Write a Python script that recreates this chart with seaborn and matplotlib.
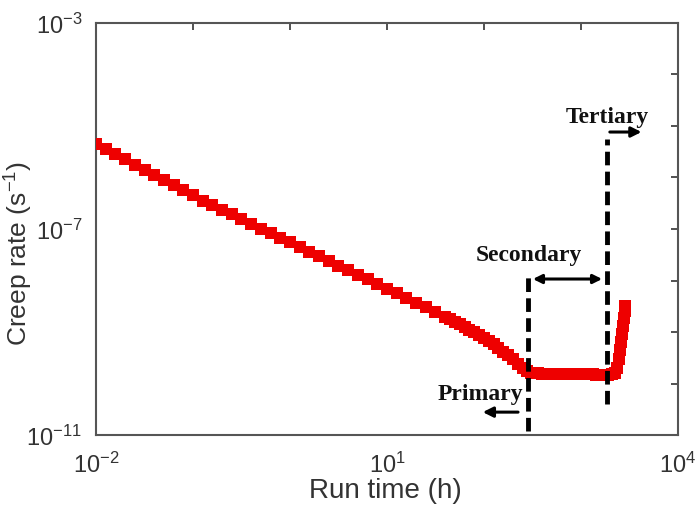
#Librerias
import numpy as np
import pandas as pd
import matplotlib
matplotlib.use("Agg")
import matplotlib.pyplot as plt
import seaborn as sns

#Datos (tiempo en horas, velocidad de creep en 1/s)
run_time_h = [
    0.0100, 0.0126, 0.0158, 0.0200, 0.0251, 0.0316, 0.0398, 0.0501, 0.0631, 0.0794,
    0.100, 0.126, 0.158, 0.200, 0.251, 0.316, 0.398, 0.501, 0.631, 0.794,
    1.00, 1.26, 1.58, 2.00, 2.51, 3.16, 3.98, 5.01, 6.31, 7.94,
    10.0, 12.6, 15.8, 20.0, 25.1, 31.6, 39.8,
    44.7, 50.1, 56.2, 63.1, 70.8, 79.4, 89.1, 100, 112, 126, 141, 158, 178, 200, 224, 251, 275,
    302, 331, 363, 398, 437, 479, 525, 575, 631, 692, 759, 832, 912, 1000, 1096, 1202,
    1318, 1445, 1585, 1738, 1905, 2089,
    2239, 2344, 2455, 2512, 2570, 2630, 2692, 2754, 2818, 2851,
]
creep_rate = [
    4.47e-6, 3.55e-6, 2.82e-6, 2.24e-6, 1.78e-6, 1.41e-6, 1.12e-6, 8.91e-7, 7.08e-7, 5.62e-7,
    4.47e-7, 3.55e-7, 2.88e-7, 2.34e-7, 1.91e-7, 1.55e-7, 1.26e-7, 1.02e-7, 8.32e-8, 6.76e-8,
    5.50e-8, 4.47e-8, 3.63e-8, 2.95e-8, 2.40e-8, 1.95e-8, 1.58e-8, 1.29e-8, 1.05e-8, 8.51e-9,
    6.92e-9, 5.62e-9, 4.57e-9, 3.72e-9, 3.02e-9, 2.45e-9, 2.00e-9,
    1.78e-9, 1.58e-9, 1.41e-9, 1.26e-9, 1.12e-9, 1.00e-9, 8.91e-10, 7.76e-10, 6.76e-10, 5.75e-10,
    4.90e-10, 4.17e-10, 3.55e-10, 2.95e-10, 2.45e-10, 2.04e-10, 1.78e-10,
    1.62e-10, 1.60e-10, 1.58e-10, 1.57e-10, 1.56e-10, 1.56e-10, 1.55e-10, 1.55e-10, 1.54e-10,
    1.54e-10, 1.53e-10, 1.53e-10, 1.52e-10, 1.52e-10, 1.52e-10, 1.51e-10, 1.51e-10, 1.50e-10,
    1.50e-10, 1.50e-10, 1.50e-10, 1.52e-10,
    1.60e-10, 2.00e-10, 3.00e-10, 4.50e-10, 6.50e-10, 9.00e-10, 1.30e-9, 1.90e-9, 2.60e-9, 3.20e-9,
]

#Limites de las etapas (h) y etiquetas de ejes
stage_bounds_h = [285, 1860]
stage_names = ["Primary", "Secondary", "Tertiary"]
x_ticks = [1e-2, 1e-1, 1e0, 1e1, 1e2, 1e3, 1e4]
x_labels = ["$10^{-2}$", "", "", "$10^{1}$", "", "", "$10^{4}$"]
y_ticks = [1e-11, 1e-10, 1e-9, 1e-8, 1e-7, 1e-6, 1e-5, 1e-4, 1e-3]
y_labels = ["$10^{-11}$", "", "", "", "$10^{-7}$", "", "", "", "$10^{-3}$"]

df = pd.DataFrame({"tiempo": run_time_h, "creep": creep_rate})

#Estilo
sns.set_theme(style="white")
plt.rcParams["font.family"] = ["Liberation Sans", "DejaVu Sans"]
plt.rcParams["mathtext.default"] = "regular"

fig = plt.figure(figsize=(6.96, 5.06), dpi=100)
ax = fig.add_axes([0.138, 0.138, 0.836, 0.815])

sns.scatterplot(data=df, x="tiempo", y="creep", marker="s", s=68, color="#ee0000",
                linewidth=0, ax=ax, zorder=3)

ax.set_xscale("log")
ax.set_yscale("log")
ax.set_xlim(1e-2, 1e4)
ax.set_ylim(1e-11, 1e-3)
ax.set_xticks(x_ticks)
ax.set_xticklabels(x_labels)
ax.set_yticks(y_ticks)
ax.set_yticklabels(y_labels)
ax.minorticks_off()
ax.tick_params(direction="in", length=5, width=1.2, top=True, right=True,
               labelsize=17, colors="#333333")
ax.tick_params(axis="x", pad=12)
ax.tick_params(axis="y", pad=10)
for sp in ax.spines.values():
    sp.set_color("#555555")
    sp.set_linewidth(1.5)

ax.set_xlabel("Run time (h)", fontsize=20, color="#333333")
ax.set_ylabel("Creep rate (s$^{-1}$)", fontsize=19, color="#333333")
ax.xaxis.set_label_coords(0.497, -0.102)
ax.yaxis.set_label_coords(-0.105, 0.444)

#Lineas punteadas que separan las etapas
dash = dict(color="black", lw=3.5, ls=(0, (2.8, 1.3)), zorder=4)
ax.plot([stage_bounds_h[0]] * 2, [1.2e-11, 1.3e-8], **dash)
ax.plot([stage_bounds_h[1]] * 2, [4.0e-11, 5.6e-6], **dash)

#Flechas y textos
txt = dict(fontsize=17, fontweight="bold", family=["Liberation Serif", "DejaVu Serif"],
           color="#111111", ha="center", va="center")
arr = dict(arrowstyle="-|>", color="black", lw=2.2, mutation_scale=15)
ax.annotate("", xy=(91, 2.8e-11), xytext=(240, 2.8e-11), arrowprops=arr)
ax.annotate("", xy=(4500, 7.6e-6), xytext=(stage_bounds_h[1], 7.6e-6), arrowprops=arr)
ax.annotate("", xy=(stage_bounds_h[1] * 0.95, 1.07e-8), xytext=(stage_bounds_h[0] * 1.05, 1.07e-8),
            arrowprops=dict(arrowstyle="<|-|>", color="black", lw=2.2, mutation_scale=13))
ax.text(92, 6.3e-11, stage_names[0], **txt)
ax.text(290, 3.2e-8, stage_names[1], **txt)
ax.text(1850, 1.5e-5, stage_names[2], **txt)

plt.savefig("out.png", dpi=100)
print("Grafico guardado")
